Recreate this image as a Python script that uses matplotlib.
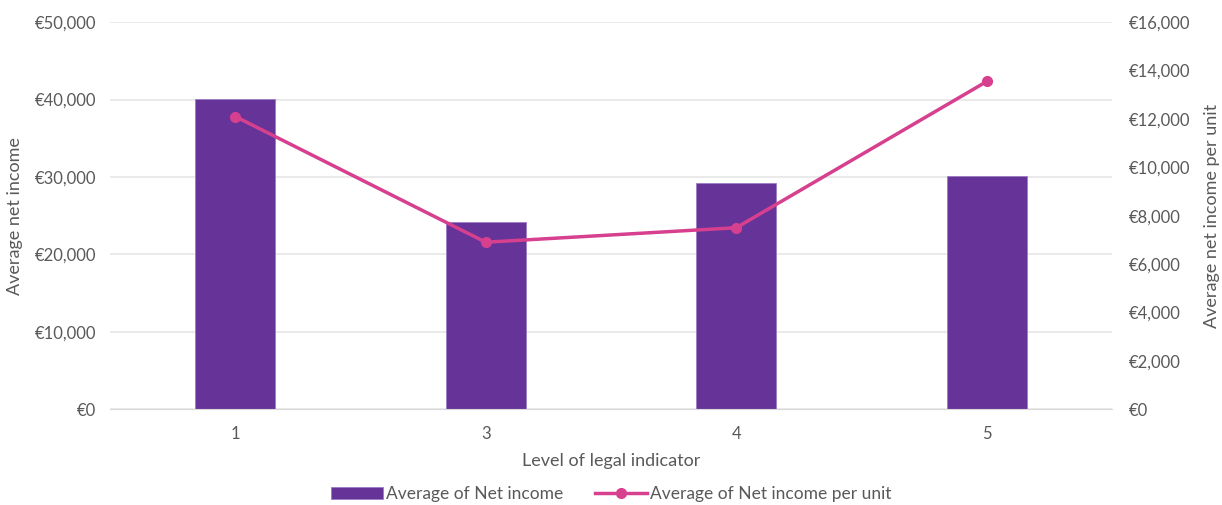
import matplotlib.pyplot as plt
from matplotlib.ticker import FuncFormatter

plt.rcParams["font.family"] = ["Lato", "DejaVu Sans"]
plt.rcParams["font.size"] = 12

levels = ["1", "3", "4", "5"]
net_income = [40100, 24200, 29200, 30100]
net_income_per_unit = [12100, 6900, 7500, 13550]

bar_color = "#663399"
line_color = "#D6408E"
text_color = "#595959"
grid_color = "#E6E6E6"

fig = plt.figure(figsize=(12.22, 5.05), dpi=100)
ax = fig.add_axes([0.09, 0.19, 0.82, 0.766])
ax2 = ax.twinx()

x = range(len(levels))
bars = ax.bar(x, net_income, width=0.32, color=bar_color, edgecolor="#9B7CC4",
              linewidth=0.6, label="Average of Net income", zorder=2)
line, = ax2.plot(x, net_income_per_unit, color=line_color, linewidth=2.5,
                 marker="o", markersize=7, label="Average of Net income per unit")

ax.set_xlim(-0.5, len(levels) - 0.5)
ax.set_ylim(0, 50000)
ax2.set_ylim(0, 16000)
ax.set_yticks(range(0, 50001, 10000))
ax2.set_yticks(range(0, 16001, 2000))

euro = FuncFormatter(lambda v, p: f"€{v:,.0f}")
ax.yaxis.set_major_formatter(euro)
ax2.yaxis.set_major_formatter(euro)

ax.set_xticks(list(x))
ax.set_xticklabels(levels)
ax.grid(axis="y", color=grid_color, linewidth=1.2, zorder=0)
ax.set_axisbelow(True)

for a in (ax, ax2):
    for s in a.spines.values():
        s.set_visible(False)
    a.tick_params(length=0, colors=text_color, labelsize=12)
ax.spines["bottom"].set_visible(True)
ax.spines["bottom"].set_color("#D9D9D9")
ax.tick_params(axis="x", pad=12)
ax.tick_params(axis="y", pad=10)
ax2.tick_params(axis="y", pad=12)

ax.set_xlabel("Level of legal indicator", color=text_color, fontsize=13, labelpad=8)
ax.set_ylabel("Average net income", color=text_color, fontsize=13, labelpad=8)
ax2.set_ylabel("Average net income per unit", color=text_color, fontsize=13, labelpad=10)

fig.legend([bars, line], ["Average of Net income", "Average of Net income per unit"],
           loc="center", bbox_to_anchor=(0.5, 0.022), ncol=2, frameon=False,
           fontsize=12.5, labelcolor=text_color, handlelength=3, columnspacing=1.8,
           handletextpad=0.2)

fig.savefig("out.png", dpi=100)
